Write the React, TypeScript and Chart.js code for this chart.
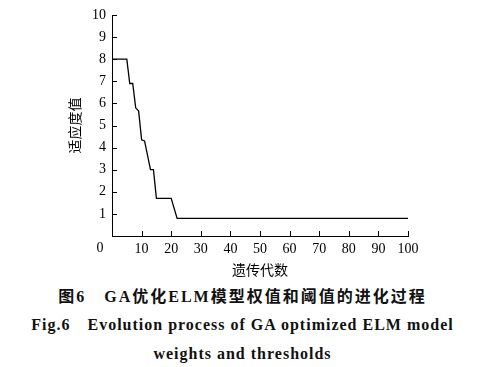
import React, { useEffect, useRef } from "react";
import { Chart, registerables } from "chart.js";

Chart.register(...registerables);

// Data: generation breakpoints and best fitness value
const generations = [0, 5, 6, 7, 8, 9, 10, 11, 13, 14, 15, 20, 22, 100];
const fitness = [8.0, 8.0, 6.9, 6.9, 5.8, 5.65, 4.35, 4.3, 3.0, 3.0, 1.7, 1.7, 0.8, 0.8];

const xTicks = [0, 10, 20, 30, 40, 50, 60, 70, 80, 90, 100];
const yTicks = [0, 1, 2, 3, 4, 5, 6, 7, 8, 9, 10];

const xTitle = "遗传代数";
const yTitle = "适应度值";
const captionCn = "图6\u3000GA优化ELM模型权值和阈值的进化过程";
const captionEn1 = "Fig.6\u2003Evolution process of GA optimized ELM model";
const captionEn2 = "weights and thresholds";

const SERIF = '"Liberation Serif", "Times New Roman", serif';
const CJK = '"Noto Sans CJK SC", sans-serif';

const inwardTicks = {
  id: "inwardTicks",
  afterDraw(chart: any) {
    const { ctx, chartArea, scales } = chart;
    const xs = scales.x;
    const ys = scales.y;
    ctx.save();
    ctx.strokeStyle = "#000";
    ctx.lineWidth = 1;
    ctx.beginPath();
    for (const v of xTicks) {
      if (v === 0) continue;
      const px = Math.round(xs.getPixelForValue(v)) + 0.5;
      ctx.moveTo(px, chartArea.bottom);
      ctx.lineTo(px, chartArea.bottom - 5);
    }
    for (const v of yTicks) {
      if (v === 0) continue;
      const py = Math.round(ys.getPixelForValue(v)) + 0.5;
      ctx.moveTo(chartArea.left, py);
      ctx.lineTo(chartArea.left + 5, py);
    }
    ctx.stroke();
    // origin label
    ctx.fillStyle = "#000";
    ctx.font = `14px ${SERIF}`;
    ctx.textAlign = "center";
    ctx.textBaseline = "middle";
    ctx.fillText("0", chartArea.left - 12, chartArea.bottom + 12);
    ctx.restore();
  },
};

export default function App() {
  const ref = useRef<HTMLCanvasElement>(null);

  useEffect(() => {
    if (!ref.current) return;
    const chart = new Chart(ref.current, {
      type: "line",
      data: {
        datasets: [
          {
            data: generations.map((g, i) => ({ x: g, y: fitness[i] })),
            borderColor: "#000",
            borderWidth: 1.3,
            pointRadius: 0,
            tension: 0,
            fill: false,
          },
        ],
      },
      options: {
        animation: false,
        responsive: false,
        maintainAspectRatio: false,
        layout: { padding: { top: 15, right: 77, left: 0, bottom: 0 } },
        plugins: { legend: { display: false }, tooltip: { enabled: false } },
        scales: {
          x: {
            type: "linear",
            min: 0,
            max: 100,
            afterFit: (s: any) => {
              s.height = 44;
            },
            afterBuildTicks: (s: any) => {
              s.ticks = xTicks.map((v) => ({ value: v }));
            },
            grid: { display: true, drawOnChartArea: false, drawTicks: false },
            border: { display: true, color: "#000", width: 1 },
            ticks: {
              padding: 5,
              color: "#000",
              font: { family: SERIF, size: 14 },
              maxRotation: 0,
              callback: (v: any) => (v === 0 ? "" : String(v)),
            },
            title: {
              display: true,
              text: xTitle,
              color: "#000",
              font: { family: CJK, size: 14 },
              padding: { top: 0, bottom: 2 },
            },
          },
          y: {
            type: "linear",
            min: 0,
            max: 10,
            afterFit: (s: any) => {
              s.width = 112;
            },
            afterBuildTicks: (s: any) => {
              s.ticks = yTicks.map((v) => ({ value: v }));
            },
            grid: { display: true, drawOnChartArea: false, drawTicks: false },
            border: { display: true, color: "#000", width: 1 },
            ticks: {
              padding: 6,
              color: "#000",
              font: { family: SERIF, size: 14 },
              callback: (v: any) => (v === 0 ? "" : String(v)),
            },
            title: {
              display: true,
              text: yTitle,
              color: "#000",
              font: { family: CJK, size: 14 },
              padding: { top: 66, bottom: 0 },
            },
          },
        },
      },
      plugins: [inwardTicks],
    });
    return () => chart.destroy();
  }, []);

  const capStyle: React.CSSProperties = {
    position: "absolute",
    left: 0,
    width: 485,
    textAlign: "center",
    fontWeight: "bold",
    fontSize: 16,
    color: "#111",
    whiteSpace: "pre",
    fontFamily: `${SERIF.split(",")[0]}, ${CJK}`,
    lineHeight: "20px",
  };

  return (
    <div style={{ position: "fixed", left: 0, top: 0, width: 485, height: 367, background: "#fff" }}>
      <canvas ref={ref} width={485} height={280} style={{ position: "absolute", left: 0, top: 0 }} />
      <div style={{ ...capStyle, top: 287, letterSpacing: 2 }}>{captionCn}</div>
      <div style={{ ...capStyle, top: 315, letterSpacing: 1 }}>{captionEn1}</div>
      <div style={{ ...capStyle, top: 344, letterSpacing: 1 }}>{captionEn2}</div>
    </div>
  );
}
